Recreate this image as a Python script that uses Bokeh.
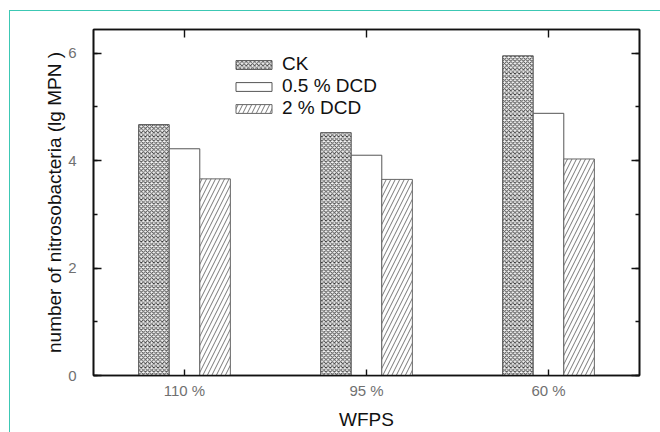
from bokeh.plotting import figure
from bokeh.models import (Range1d, ColumnDataSource, LinearAxis,
                          SingleIntervalTicker, FixedTicker, Legend, LegendItem,
                          InlineStyleSheet)
from bokeh.embed import file_html
from bokeh.resources import INLINE

# Nitrosobacteria counts (lg MPN) per water-filled pore space level
wfps = ["110 %", "95 %", "60 %"]
ck = [4.67, 4.52, 5.95]
dcd_05 = [4.22, 4.10, 4.88]
dcd_2 = [3.66, 3.65, 4.03]
series_names = ["CK", "0.5 % DCD", "2 % DCD"]
y_ticks = [0, 2, 4, 6]

FONT = "Liberation Sans"
INK = "#111111"

# one unit per WFPS group, groups centred on .5
centres = [i + 0.5 for i in range(len(wfps))]
bw = 0.168
src = ColumnDataSource(dict(
    x_ck=[c - bw for c in centres], x_05=centres, x_2=[c + bw for c in centres],
    ck=ck, dcd_05=dcd_05, dcd_2=dcd_2))

p = figure(width=660, height=432,
           x_range=Range1d(0, len(wfps)),
           y_range=Range1d(0, 6.44),
           output_backend="svg", toolbar_location=None,
           min_border_left=93, min_border_right=21,
           min_border_top=29, min_border_bottom=52)

p.xgrid.visible = False
p.ygrid.visible = False
p.outline_line_color = INK
p.outline_line_width = 1.6
p.background_fill_color = "white"
p.border_fill_color = "white"

r_ck = p.vbar(x="x_ck", top="ck", width=bw, source=src,
              fill_color="#f4f4f4", line_color="#555555", line_width=1,
              hatch_pattern="diagonal_cross", hatch_scale=4.2, hatch_weight=0.9,
              hatch_color="#3a3a3a")
r_05 = p.vbar(x="x_05", top="dcd_05", width=bw, source=src,
              fill_color="white", line_color="#555555", line_width=1)
r_2 = p.vbar(x="x_2", top="dcd_2", width=bw, source=src,
             fill_color="white", line_color="#666666", line_width=1,
             hatch_pattern="right_diagonal_line", hatch_scale=9, hatch_weight=0.8,
             hatch_color="#555555")

# left axis
ya = p.yaxis[0]
ya.ticker = SingleIntervalTicker(interval=2, num_minor_ticks=2)
ya.major_tick_in = 8
ya.major_tick_out = 0
ya.minor_tick_in = 4
ya.minor_tick_out = 0
ya.axis_line_color = INK
ya.axis_line_width = 1.6
ya.major_tick_line_color = INK
ya.minor_tick_line_color = INK
ya.major_tick_line_width = 1.4
ya.minor_tick_line_width = 1.4
ya.major_label_text_font = FONT
ya.major_label_text_font_size = "15px"
ya.major_label_text_color = "#707070"
ya.major_label_standoff = 17
ya.axis_label = "number of nitrosobacteria (lg MPN )"
ya.axis_label_text_font = FONT
ya.axis_label_text_font_size = "19px"
ya.axis_label_text_font_style = "normal"
ya.axis_label_text_color = INK
ya.axis_label_standoff = 0

# bottom axis: group names at the centres
xa = p.xaxis[0]
xa.ticker = FixedTicker(ticks=centres, minor_ticks=[])
xa.major_label_overrides = dict(zip(centres, wfps))
xa.major_tick_in = 6
xa.major_tick_out = 0
xa.minor_tick_in = 0
xa.minor_tick_out = 0
xa.axis_line_color = INK
xa.axis_line_width = 1.6
xa.major_tick_line_color = INK
xa.major_tick_line_width = 1.4
xa.major_label_text_font = FONT
xa.major_label_text_font_size = "15px"
xa.major_label_text_color = "#707070"
xa.major_label_standoff = 6
xa.axis_label = "WFPS"
xa.axis_label_text_font = FONT
xa.axis_label_text_font_size = "19px"
xa.axis_label_text_font_style = "normal"
xa.axis_label_text_color = INK
xa.axis_label_standoff = 7

# mirrored right axis (ticks only)
ra = LinearAxis(ticker=SingleIntervalTicker(interval=2, num_minor_ticks=2),
                major_tick_in=8, major_tick_out=0, minor_tick_in=4, minor_tick_out=0,
                axis_line_color=INK, axis_line_width=1.6,
                major_tick_line_color=INK, minor_tick_line_color=INK,
                major_tick_line_width=1.4, minor_tick_line_width=1.4,
                major_label_overrides={t: "" for t in y_ticks})
p.add_layout(ra, "right")

# mirrored top axis: ticks at the group centres, no labels
ta = LinearAxis(ticker=FixedTicker(ticks=centres, minor_ticks=[]),
                major_tick_in=8, major_tick_out=0, minor_tick_in=0, minor_tick_out=0,
                axis_line_color=INK, axis_line_width=1.6,
                major_tick_line_color=INK, major_tick_line_width=1.4,
                major_label_overrides={c: "" for c in centres})
p.add_layout(ta, "above")

legend = Legend(items=[LegendItem(label=series_names[0], renderers=[r_ck]),
                       LegendItem(label=series_names[1], renderers=[r_05]),
                       LegendItem(label=series_names[2], renderers=[r_2])],
                location=(138, 256), glyph_width=45, glyph_height=11,
                label_text_font=FONT, label_text_font_size="19px",
                label_text_color=INK, label_standoff=6,
                spacing=0, padding=0, margin=0,
                border_line_color=None, background_fill_alpha=0)
p.add_layout(legend)

# teal page rule along the top and left edges
p.stylesheets = [InlineStyleSheet(css="""
:host { position: relative; overflow: hidden; }
:host::after {
  content: ""; position: absolute; left: 9px; top: 10px; right: 0; bottom: 0;
  border-left: 1.5px solid #3cc8b4; border-top: 1.5px solid #3cc8b4;
  pointer-events: none;
}
""")]

open("out.html", "w").write(file_html(p, INLINE))
